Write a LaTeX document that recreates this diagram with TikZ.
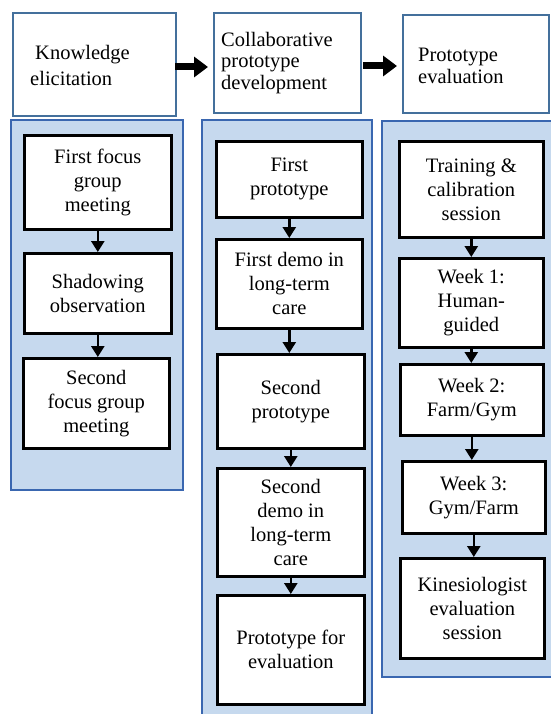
\documentclass[tikz,border=0pt]{standalone}
\usepackage{fontspec}
\setmainfont{Liberation Serif}
\newfontfamily\tnr{Liberation Serif}
\usetikzlibrary{arrows.meta}
\definecolor{panelfill}{HTML}{C6D9EE}
\definecolor{panelline}{HTML}{3A67B0}
\definecolor{headline}{HTML}{44709C}
\tikzset{
  headbox/.style={draw=headline, line width=1.6pt, fill=white, anchor=north west, inner sep=0pt},
  headtext/.style={anchor=west, align=left, inner sep=0pt, font=\tnr\fontsize{20.5}{22}\selectfont},
  panel/.style={draw=panelline, line width=1.6pt, fill=panelfill},
  stepbox/.style={draw=black, line width=2.6pt, fill=white, anchor=north west, align=center, inner sep=0pt,
    font=\tnr\fontsize{20.5}{24}\selectfont},
  bigarrow/.style={line width=7pt, -{Triangle[length=14pt,width=20pt]}, shorten >=5pt},
  smallarrow/.style={line width=2.6pt, -{Triangle[length=11pt,width=13pt]}}
}
\begin{document}
\begin{tikzpicture}[x=1pt,y=-1pt]
\useasboundingbox (0,0) rectangle (550,714);
\fill[white] (0,0) rectangle (550,714);
% header boxes
\node[headbox, minimum width=163pt, minimum height=103pt] (h1) at (12,12) {};
\node[headtext, font=\tnr\fontsize{20.5}{26}\selectfont] (t1) at (30,65) {\hspace*{5pt}Knowledge\\elicitation};
\node[headbox, minimum width=147pt, minimum height=100pt] (h2) at (213,12) {};
\node[headtext, font=\tnr\fontsize{20.5}{21.5}\selectfont] (t2) at (221,63) {Collaborative\\prototype\\development};
\node[headbox, minimum width=146pt, minimum height=98pt] (h3) at (402,14) {};
\node[headtext] (t3) at (418,66) {Prototype\\evaluation};
\coordinate (a1s) at (175,67);
\coordinate (a2s) at (363,66);
\draw[bigarrow] (a1s) -- (a1s -| h2.west);
\draw[bigarrow] (a2s) -- (a2s -| h3.west);
% panels
\draw[panel] (11,120) rectangle (183,490);
\draw[panel] (202,120) rectangle (372,720);
\draw[panel] (382,121) rectangle (560,677);
% column 1
\node[stepbox, minimum width=147pt, minimum height=94pt] (b11) at (23,134) {First focus\\group\\meeting};
\node[stepbox, minimum width=147pt, minimum height=80pt] (b12) at (23,252) {Shadowing\\observation};
\node[stepbox, minimum width=146pt, minimum height=90pt] (b13) at (22,357) {Second\\focus group\\meeting};
% column 2
\node[stepbox, minimum width=146pt, minimum height=76pt] (b21) at (215,140) {First\\prototype};
\node[stepbox, minimum width=146pt, minimum height=89pt] (b22) at (215,238) {First demo in\\long-term\\care};
\node[stepbox, minimum width=147pt, minimum height=94pt] (b23) at (216,353) {Second\\prototype};
\node[stepbox, minimum width=147pt, minimum height=108pt] (b24) at (216,467) {Second\\demo in\\long-term\\care};
\node[stepbox, minimum width=147pt, minimum height=109pt] (b25) at (216,594) {Prototype for\\evaluation};
% column 3
\node[stepbox, minimum width=144pt, minimum height=96pt] (b31) at (398,140) {Training \&\\calibration\\session};
\node[stepbox, minimum width=144pt, minimum height=89pt] (b32) at (398,257) {Week 1:\\Human-\\guided};
\node[stepbox, minimum width=143pt, minimum height=71pt] (b33) at (399,363) {Week 2:\\Farm/Gym};
\node[stepbox, minimum width=143pt, minimum height=72pt] (b34) at (401,460) {Week 3:\\Gym/Farm};
\node[stepbox, minimum width=144pt, minimum height=100pt] (b35) at (399,557) {Kinesiologist\\evaluation\\session};
% arrows
\draw[smallarrow] (b11.south) -- (b11.south |- b12.north);
\draw[smallarrow] (b12.south) -- (b12.south |- b13.north);
\draw[smallarrow] (b21.south) -- (b21.south |- b22.north);
\draw[smallarrow] (b22.south) -- (b22.south |- b23.north);
\draw[smallarrow] (b23.south) -- (b23.south |- b24.north);
\draw[smallarrow] (b24.south) -- (b24.south |- b25.north);
\draw[smallarrow] (b31.south) -- (b31.south |- b32.north);
\draw[smallarrow] (b32.south) -- (b32.south |- b33.north);
\draw[smallarrow] (b33.south) -- (b33.south |- b34.north);
\draw[smallarrow] (b34.south) -- (b34.south |- b35.north);
\end{tikzpicture}
\end{document}
